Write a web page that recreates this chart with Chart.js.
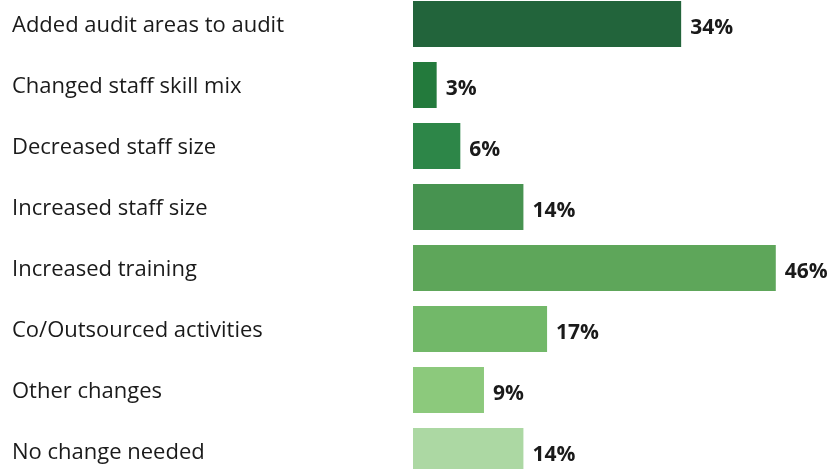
<!DOCTYPE html>
<html>
<head>
<meta charset="utf-8">
<script src="https://cdn.jsdelivr.net/npm/chart.js@4"></script>
<style>
  html, body { margin: 0; padding: 0; background: #ffffff; overflow: hidden; width: 831px; height: 469px; }
  #chart { position: absolute; left: 0; top: -7px; }
</style>
</head>
<body>
<canvas id="chart" width="831" height="489"></canvas>
<script>
// Responses: how audit functions changed
const categories = [
  "Added audit areas to audit",
  "Changed staff skill mix",
  "Decreased staff size",
  "Increased staff size",
  "Increased training",
  "Co/Outsourced activities",
  "Other changes",
  "No change needed"
];
const shares = [34, 3, 6, 14, 46, 17, 9, 14];
const barColors = [
  "#22643b", "#237a3c", "#2d8648", "#479350",
  "#5ea65a", "#72b869", "#8cc97c", "#acd8a3"
];

const LABEL_FONT = "'Open Sans', 'Noto Sans', sans-serif";

// Draws the percentage next to the end of each bar
const valueLabels = {
  id: "valueLabels",
  afterDatasetsDraw(chart) {
    const ctx = chart.ctx;
    const meta = chart.getDatasetMeta(0);
    ctx.save();
    ctx.font = "bold 21px " + LABEL_FONT;
    ctx.fillStyle = "#1a1a1a";
    ctx.textAlign = "left";
    ctx.textBaseline = "middle";
    meta.data.forEach((bar, i) => {
      ctx.fillText(shares[i] + "%", bar.x + 9, bar.y + 4);
    });
    ctx.restore();
  }
};

new Chart(document.getElementById("chart"), {
  type: "bar",
  data: {
    labels: categories,
    datasets: [{
      data: shares,
      backgroundColor: barColors,
      borderWidth: 0,
      categoryPercentage: 1,
      barPercentage: 46 / 61
    }]
  },
  options: {
    indexAxis: "y",
    responsive: false,
    maintainAspectRatio: false,
    animation: false,
    layout: { padding: { left: 12, right: 0, top: 0.5, bottom: 0.5 } },
    plugins: { legend: { display: false }, tooltip: { enabled: false } },
    scales: {
      x: {
        display: false,
        min: 0,
        max: 53
      },
      y: {
        grid: { display: false },
        border: { display: false },
        ticks: {
          crossAlign: "far",
          padding: 0,
          labelOffset: 2,
          color: "#1a1a1a",
          font: { family: LABEL_FONT, size: 22, weight: "500" }
        },
        afterFit(scale) {
          scale.width = 401;
          scale.paddingTop = 0;
          scale.paddingBottom = 0;
        }
      }
    }
  },
  plugins: [valueLabels]
});
</script>
</body>
</html>
